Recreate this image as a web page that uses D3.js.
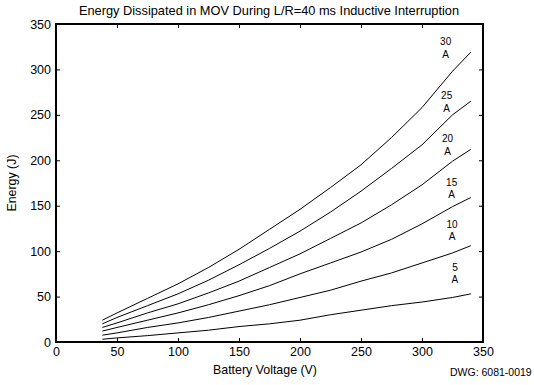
<!DOCTYPE html>
<html><head><meta charset="utf-8">
<script src="https://cdn.jsdelivr.net/npm/d3@7"></script>
<style>
body{margin:0;background:#fff;}
svg{display:block;font-family:"Liberation Sans",Arial,sans-serif;}
</style></head>
<body><svg id="c" width="534" height="385"></svg>
<script>
const voltages = [38, 50, 75, 100, 125, 150, 175, 200, 225, 250, 275, 300, 325, 340];
const e30 = [24, 32, 48, 64, 82, 102, 124, 146, 170, 195, 225, 258, 298, 319];
const e25 = [20, 27, 40, 53, 68, 85, 103, 122, 143, 166, 191, 217, 250, 265];
const e20 = [16, 21, 32, 42, 54, 67, 82, 97, 114, 131, 151, 173, 199, 212];
const e15 = [12, 16, 24, 32, 41, 51, 62, 75, 87, 99, 113, 130, 149, 159];
const e10 = [7.5, 10, 16, 21, 27, 34, 41, 49, 57, 67, 76, 87, 98, 106];
const e5  = [3, 4.5, 7, 10, 13, 17, 20, 24, 30, 35, 40, 44, 49, 53];
const seriesNames = ["30", "25", "20", "15", "10", "5"];
const seriesVals = [e30, e25, e20, e15, e10, e5];
const labelPos = [[319.4, 326.7], [320.2, 267.2], [321, 219.6], [324.3, 171.9], [324.6, 126], [327, 78.4]];
const xTicks = [0, 50, 100, 150, 200, 250, 300, 350];
const yTicks = [0, 50, 100, 150, 200, 250, 300, 350];

const svg = d3.select("#c");
const L = 56, R = 483, T = 24, B = 342;
const x = d3.scaleLinear().domain([0, 350]).range([L, R]);
const y = d3.scaleLinear().domain([0, 350]).range([B, T]);

// axes
const gB = svg.append("g").attr("transform", `translate(0,${B})`)
  .call(d3.axisBottom(x).tickValues(xTicks).tickSize(-4).tickPadding(5).tickFormat(d3.format("d")));
const gL = svg.append("g").attr("transform", `translate(${L},0)`)
  .call(d3.axisLeft(y).tickValues(yTicks).tickSize(-4).tickPadding(5).tickFormat(d3.format("d")));
const gT = svg.append("g").attr("transform", `translate(0,${T})`)
  .call(d3.axisTop(x).tickValues(xTicks).tickSize(-4).tickFormat(""));
const gR = svg.append("g").attr("transform", `translate(${R},0)`)
  .call(d3.axisRight(y).tickValues(yTicks).tickSize(-4).tickFormat(""));
[gB, gL, gT, gR].forEach(g => {
  g.select(".domain").remove();
  g.selectAll(".tick line").attr("stroke", "#000").attr("stroke-width", 1);
  g.selectAll("text").attr("font-size", 12.5).attr("fill", "#000").attr("font-family", "Liberation Sans, Arial, sans-serif");
});
svg.append("rect").attr("x", L).attr("y", T).attr("width", R - L).attr("height", B - T)
  .attr("fill", "none").attr("stroke", "#000").attr("stroke-width", 2);

// lines
const line = d3.line().x((d, i) => x(voltages[i])).y(d => y(d));
seriesVals.forEach(vals => {
  svg.append("path").datum(vals).attr("d", line)
    .attr("fill", "none").attr("stroke", "#000").attr("stroke-width", 1);
});

// series labels
seriesNames.forEach((n, i) => {
  const [vx, vy] = labelPos[i];
  const t = svg.append("text").attr("x", x(vx)).attr("y", y(vy))
    .attr("text-anchor", "middle").attr("font-size", 10).attr("fill", "#000");
  t.append("tspan").attr("x", x(vx)).attr("dy", 0).text(n);
  t.append("tspan").attr("x", x(vx)).attr("dy", 12.5).text("A");
});

// titles
svg.append("text").attr("x", 269).attr("y", 15).attr("text-anchor", "middle")
  .attr("font-size", 12.8).text("Energy Dissipated in MOV During L/R=40 ms Inductive Interruption");
svg.append("text").attr("x", 265).attr("y", 374).attr("text-anchor", "middle")
  .attr("font-size", 12.4).text("Battery Voltage (V)");
svg.append("text").attr("transform", `translate(16,${(T + B) / 2}) rotate(-90)`)
  .attr("text-anchor", "middle").attr("font-size", 12.4).text("Energy (J)");
svg.append("text").attr("x", 450).attr("y", 376).attr("font-size", 10.5).text("DWG: 6081-0019");
</script></body></html>
